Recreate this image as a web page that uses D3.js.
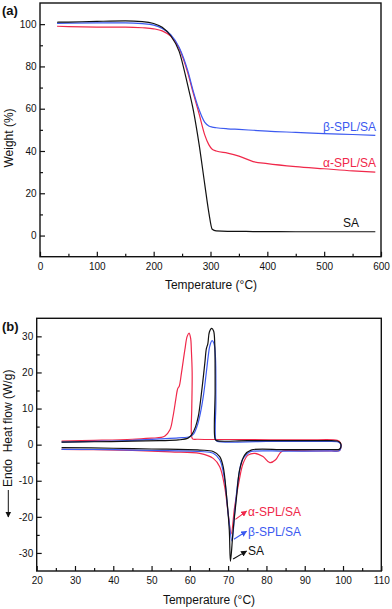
<!DOCTYPE html>
<html>
<head>
<meta charset="utf-8">
<script src="https://cdn.jsdelivr.net/npm/d3@7"></script>
<style>
  body { margin: 0; background: #fff; }
  svg { display: block; font-family: "Liberation Sans", Arial, sans-serif; }
</style>
</head>
<body>
<svg id="chart" width="392" height="609"></svg>
<script>
// ---- panel (a): TGA, weight (%) vs temperature (°C)
var tgaTemps = [30, 50, 100, 150, 180, 200, 215, 230, 245, 260, 270, 280, 290, 297, 303, 310, 330, 350, 375, 400, 450, 500, 550, 590];
var tgaSA    = [100.9, 101, 101.3, 101.5, 101.2, 100.3, 98.5, 94.5, 87, 71, 59, 43, 24, 11, 3, 2.2, 2.0, 2.0, 1.9, 1.9, 1.8, 1.8, 1.8, 1.8];
var tgaBeta  = [100.4, 100.5, 100.6, 100.6, 100.2, 99.5, 98, 95, 89, 78, 68, 59.5, 53.5, 51.8, 51.3, 51, 50.5, 50.2, 49.8, 49.4, 48.8, 48.2, 47.8, 47.4];
var tgaAlpha = [99, 98.8, 98.6, 98.6, 98.3, 97.8, 96.8, 94.3, 88.5, 77, 67, 57.5, 47.5, 43, 40.8, 40, 39, 37.6, 35, 34, 32.6, 31.6, 30.6, 30];

// ---- panel (b): DSC loops [T (°C), heat flow (W/g)], cooling on top, heating below
var dscAlpha = [[26.5,1.0],[35,1.2],[45,1.5],[50,1.8],[52.5,2.0],[53.5,2.4],[54.8,4.1],[55.6,7.8],[56.3,12.4],[56.7,15],[56.9,15.7],[57.2,16.1],[57.8,19.8],[58.7,26.3],[59.3,30],[59.8,30.9],[60.2,29.5],[60.4,26],[60.6,20],[60.5,10],[60.4,3],[60.7,1.6],[62,1.5],[75,1.4],[90,1.3],[98.5,1.2],[99.3,0.6],[99.4,-1.0],[99,-1.7],[97,-1.75],[90,-1.75],[84.4,-1.7],[83.5,-2.4],[82.4,-4.2],[80.9,-5],[79.1,-3.3],[77,-2.4],[75.2,-2.9],[73.9,-5.2],[72.9,-9.8],[71.7,-17.2],[70.8,-24.7],[70,-19],[69.1,-11.7],[67.8,-6.1],[66.1,-3.8],[62.6,-2.4],[55,-2],[45,-1.6],[35,-1.4],[26.5,-1.3]];
var dscBeta = [[26.5,0.7],[35,0.9],[45,1.2],[52,1.6],[57,1.9],[60,2.2],[61,3],[62,5.5],[62.8,9],[63.6,14],[64.3,20],[64.8,24.5],[65.2,27.3],[65.8,28.8],[66.3,28],[66.7,24],[66.8,12],[66.8,1.3],[67.2,0.9],[80,0.9],[95,0.9],[98.5,0.8],[99.3,0.3],[99.4,-1.0],[99,-1.7],[97,-1.75],[85,-1.8],[76,-1.9],[75.2,-2.4],[73.7,-4.2],[72.6,-9.8],[71.7,-19],[71,-26.7],[70,-19.1],[69.1,-9.8],[67.8,-4.2],[66.1,-2.4],[62.6,-1.9],[50,-1.6],[40,-1.4],[26.5,-1.3]];
var dscSA = [[26.5,0.7],[35,0.8],[45,0.95],[52,1.1],[57,1.3],[59.5,1.8],[60.5,2.8],[61.5,5],[62.2,7.8],[63,14],[63.9,22.5],[64.3,26.5],[64.7,28],[65.1,31.2],[65.7,32.2],[66.2,31.5],[66.5,28],[66.6,15],[66.6,1.5],[67,1.1],[75,1.1],[85,1.1],[95,1.1],[98.5,1.0],[99.3,0.5],[99.4,-0.8],[99,-1.3],[97,-1.35],[85,-1.4],[76,-1.5],[74.3,-2.9],[73,-7],[72.2,-14.4],[71.3,-23.7],[70.6,-32.3],[70.3,-23.7],[69.6,-14.4],[68.7,-6.1],[67.8,-3.3],[66.1,-1.9],[62.6,-1.5],[50,-1.2],[40,-1.0],[26.5,-0.8]];

var seriesNames = ['α-SPL/SA', 'β-SPL/SA', 'SA'];
var colors = { 'α-SPL/SA': '#f0284a', 'β-SPL/SA': '#3c5af0', 'SA': '#111111' };

var svg = d3.select('#chart');
svg.append('defs').selectAll('marker')
    .data(seriesNames).enter().append('marker')
    .attr('id', function(d, i) { return 'arr' + i; })
    .attr('viewBox', '0 0 10 10')
    .attr('refX', 9).attr('refY', 5)
    .attr('markerWidth', 6).attr('markerHeight', 6)
    .attr('markerUnits', 'userSpaceOnUse')
    .attr('orient', 'auto')
    .append('path').attr('d', 'M0,0L10,5L0,10z')
    .attr('fill', function(d) { return colors[d]; });
svg.append('marker')
    .attr('id', 'arrDown')
    .attr('viewBox', '0 0 10 10')
    .attr('refX', 9).attr('refY', 5)
    .attr('markerWidth', 6).attr('markerHeight', 7)
    .attr('markerUnits', 'userSpaceOnUse')
    .attr('orient', 'auto')
    .append('path').attr('d', 'M0,0L10,5L0,10z').attr('fill', '#111');

function frameAxes(g, x, y, xMajor, xMinor, yMajor, yMinor) {
    var r = x.range(), t = y.range();
    var bottom = t[0], top = t[1];
    g.append('g').attr('transform', 'translate(0,' + bottom + ')')
        .call(d3.axisBottom(x).tickValues(xMinor).tickSize(-3).tickFormat(''));
    g.append('g').attr('transform', 'translate(0,' + bottom + ')')
        .call(d3.axisBottom(x).tickValues(xMajor).tickSize(-5).tickPadding(6).tickFormat(d3.format('d')));
    g.append('g').attr('transform', 'translate(' + r[0] + ',0)')
        .call(d3.axisLeft(y).tickValues(yMinor).tickSize(-3).tickFormat(''));
    g.append('g').attr('transform', 'translate(' + r[0] + ',0)')
        .call(d3.axisLeft(y).tickValues(yMajor).tickSize(-5).tickPadding(3.5).tickFormat(function(d) { return d < 0 ? '-' + (-d) : d; }));
    g.selectAll('.domain').remove();
    g.selectAll('.tick line').attr('stroke', '#111').attr('stroke-width', 1.2);
    g.selectAll('.tick text').attr('fill', '#111').style('font-size', '10px').style('font-family', '"Liberation Sans", Arial, sans-serif');
    g.append('rect')
        .attr('x', r[0]).attr('y', top)
        .attr('width', r[1] - r[0]).attr('height', bottom - top)
        .attr('fill', 'none').attr('stroke', '#111').attr('stroke-width', 1.4);
}

// ---------- panel (a)
var xA = d3.scaleLinear().domain([0, 600]).range([40, 381]);
var yA = d3.scaleLinear().domain([-10, 110]).range([256.7, 3]);
var gA = svg.append('g');

var lineA = d3.line()
    .x(function(d) { return xA(d[0]); })
    .y(function(d) { return yA(d[1]); })
    .curve(d3.curveMonotoneX);
var tgaSeries = [
    { name: 'α-SPL/SA', values: tgaAlpha },
    { name: 'β-SPL/SA', values: tgaBeta },
    { name: 'SA', values: tgaSA }
];
gA.selectAll('path.tga').data(tgaSeries).enter().append('path')
    .attr('class', 'tga')
    .attr('d', function(s) { return lineA(tgaTemps.map(function(t, i) { return [t, s.values[i]]; })); })
    .attr('fill', 'none')
    .attr('stroke', function(s) { return colors[s.name]; })
    .attr('stroke-width', 1.2);

frameAxes(gA, xA, yA,
    d3.range(0, 601, 100), d3.range(50, 600, 100),
    d3.range(0, 101, 20), d3.range(10, 100, 20));

var tgaLabels = [
    { name: 'β-SPL/SA', y: 131 },
    { name: 'α-SPL/SA', y: 167 },
    { name: 'SA', y: 227 }
];
gA.selectAll('text.lbl').data(tgaLabels).enter().append('text')
    .attr('class', 'lbl')
    .attr('x', function(d) { return d.name === 'SA' ? 359 : 376; })
    .attr('y', function(d) { return d.y; })
    .attr('text-anchor', 'end')
    .attr('fill', function(d) { return colors[d.name]; })
    .style('font-size', '12px')
    .text(function(d) { return d.name; });

gA.append('text').attr('x', 211).attr('y', 288.5).attr('text-anchor', 'middle')
    .style('font-size', '12px').attr('fill', '#111').text('Temperature (°C)');
gA.append('text').attr('transform', 'translate(12.5,138) rotate(-90)').attr('text-anchor', 'middle')
    .style('font-size', '12px').attr('fill', '#111').text('Weight (%)');
gA.append('text').attr('x', 2).attr('y', 14.5)
    .style('font-size', '13px').style('font-weight', 'bold').attr('fill', '#111').text('(a)');

// ---------- panel (b)
var xB = d3.scaleLinear().domain([20, 110]).range([36.7, 381.3]);
var yB = d3.scaleLinear().domain([-35, 35]).range([571, 318.3]);
var gB = svg.append('g');

var lineB = d3.line()
    .x(function(d) { return xB(d[0]); })
    .y(function(d) { return yB(d[1]); })
    .curve(d3.curveCatmullRom.alpha(0.5));
var dscSeries = [
    { name: 'α-SPL/SA', values: dscAlpha },
    { name: 'β-SPL/SA', values: dscBeta },
    { name: 'SA', values: dscSA }
];
gB.selectAll('path.dsc').data(dscSeries).enter().append('path')
    .attr('class', 'dsc')
    .attr('d', function(s) { return lineB(s.values); })
    .attr('fill', 'none')
    .attr('stroke', function(s) { return colors[s.name]; })
    .attr('stroke-width', 1.2)
    .attr('stroke-linejoin', 'round');

frameAxes(gB, xB, yB,
    d3.range(20, 111, 10), d3.range(25, 110, 10),
    d3.range(-30, 31, 10), d3.range(-25, 30, 10));

// callouts: [curve point] -> label
var dscLabels = [
    { name: 'α-SPL/SA', from: [71.9, -20.7], to: [74.8, -18.4], y: 515.5 },
    { name: 'β-SPL/SA', from: [71.5, -26.2], to: [74.8, -24], y: 535.5 },
    { name: 'SA', from: [71.3, -31.7], to: [74.8, -29.5], y: 555 }
];
gB.selectAll('line.call').data(dscLabels).enter().append('line')
    .attr('class', 'call')
    .attr('x1', function(d) { return xB(d.from[0]); })
    .attr('y1', function(d) { return yB(d.from[1]); })
    .attr('x2', function(d) { return xB(d.to[0]); })
    .attr('y2', function(d) { return yB(d.to[1]); })
    .attr('stroke', function(d) { return colors[d.name]; })
    .attr('stroke-width', 1.1)
    .attr('marker-end', function(d) { return 'url(#arr' + seriesNames.indexOf(d.name) + ')'; });
gB.selectAll('text.lbl').data(dscLabels).enter().append('text')
    .attr('class', 'lbl')
    .attr('x', 248)
    .attr('y', function(d) { return d.y; })
    .attr('fill', function(d) { return colors[d.name]; })
    .style('font-size', '12px')
    .text(function(d) { return d.name; });

gB.append('text').attr('x', 209).attr('y', 604).attr('text-anchor', 'middle')
    .style('font-size', '12px').attr('fill', '#111').text('Temperature (°C)');
gB.append('text').attr('transform', 'translate(12,487) rotate(-90)').attr('text-anchor', 'start')
    .style('font-size', '12px').style('white-space', 'pre').attr('fill', '#111').text('Endo  Heat flow (W/g)');
gB.append('line')
    .attr('x1', 8.3).attr('y1', 490).attr('x2', 8.3).attr('y2', 517)
    .attr('stroke', '#111').attr('stroke-width', 1)
    .attr('marker-end', 'url(#arrDown)');
gB.append('text').attr('x', 2).attr('y', 331)
    .style('font-size', '13px').style('font-weight', 'bold').attr('fill', '#111').text('(b)');
</script>
</body>
</html>
